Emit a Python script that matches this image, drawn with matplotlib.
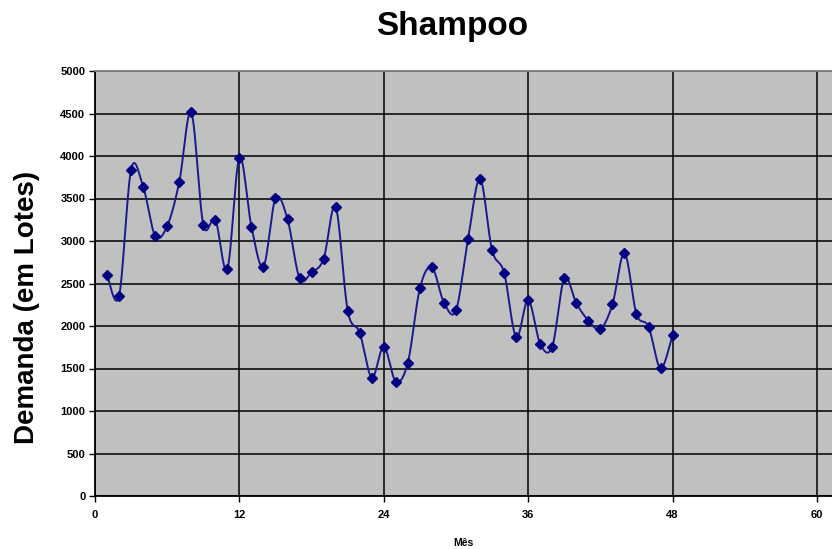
import numpy as np
import matplotlib
matplotlib.use("Agg")
import matplotlib.pyplot as plt

plt.rcParams['font.family'] = ['Liberation Sans', 'DejaVu Sans']

# Monthly shampoo demand (lots)
months = list(range(1, 49))
demand = [2605, 2353, 3840, 3640, 3060, 3176, 3692, 4515, 3192, 3251,
          2672, 3982, 3170, 2699, 3502, 3256, 2561, 2632, 2790, 3403,
          2182, 1919, 1393, 1756, 1346, 1570, 2444, 2690, 2276, 2185,
          3020, 3732, 2893, 2626, 1868, 2305, 1789, 1757, 2561, 2268,
          2064, 1965, 2253, 2857, 2141, 1993, 1502, 1895]

title = "Shampoo"
xlabel = "Mês"
ylabel = "Demanda (em Lotes)"
xticks = [0, 12, 24, 36, 48, 60]
yticks = list(range(0, 5001, 500))


def smooth_curve(x, y, steps=24):
    """Cubic Bezier curve through every point (Catmull-Rom control points)."""
    x = np.asarray(x, float)
    y = np.asarray(y, float)
    px = np.concatenate([[x[0]], x, [x[-1]]])
    py = np.concatenate([[y[0]], y, [y[-1]]])
    t = np.linspace(0, 1, steps, endpoint=False)[:, None]
    xs, ys = [], []
    for i in range(1, len(px) - 2):
        p0 = np.array([px[i], py[i]])
        p3 = np.array([px[i + 1], py[i + 1]])
        c1 = p0 + (np.array([px[i + 1], py[i + 1]]) - np.array([px[i - 1], py[i - 1]])) / 6
        c2 = p3 - (np.array([px[i + 2], py[i + 2]]) - np.array([px[i], py[i]])) / 6
        b = ((1 - t) ** 3) * p0 + 3 * ((1 - t) ** 2) * t * c1 + 3 * (1 - t) * t ** 2 * c2 + t ** 3 * p3
        xs.append(b[:, 0])
        ys.append(b[:, 1])
    xs.append([x[-1]])
    ys.append([y[-1]])
    return np.concatenate(xs), np.concatenate(ys)


fig = plt.figure(figsize=(8.32, 5.49), dpi=100)
ax = fig.add_axes([95 / 832, 53 / 549, (832 - 95) / 832, (496 - 71) / 549])
ax.set_facecolor('#c0c0c0')

sx, sy = smooth_curve(months, demand)
ax.plot(sx, sy, color='#1a1a8c', lw=1.4, zorder=3)
ax.plot(months, demand, linestyle='none', marker='D', markersize=5,
        color='#000080', zorder=4)

ax.set_xlim(0, 61.25)
ax.set_ylim(0, 5000)
ax.set_xticks(xticks)
ax.set_yticks(yticks)
ax.grid(True, color='black', lw=1.1, zorder=1)
ax.set_axisbelow(True)

for side in ('left', 'bottom'):
    ax.spines[side].set_color('black')
    ax.spines[side].set_linewidth(1.3)
ax.spines['top'].set_color('#808080')
ax.spines['top'].set_linewidth(1.3)
ax.spines['right'].set_visible(False)

ax.tick_params(axis='both', direction='out', length=4, width=1, color='black',
               labelsize=8)
ax.tick_params(axis='y', pad=3)
ax.tick_params(axis='x', pad=6)
for lbl in ax.get_xticklabels() + ax.get_yticklabels():
    lbl.set_fontweight('bold')

fig.text(452 / 832, 1 - 27 / 549, title, ha='center', va='center',
         fontsize=24, fontweight='bold')
fig.text(27 / 832, 1 - 307 / 549, ylabel, ha='center', va='center',
         rotation=90, fontsize=20, fontweight='bold')
fig.text(463 / 832, 1 - 543 / 549, xlabel, ha='center', va='center',
         fontsize=7.5, fontweight='bold')

fig.savefig('out.png', dpi=100, facecolor='white')
